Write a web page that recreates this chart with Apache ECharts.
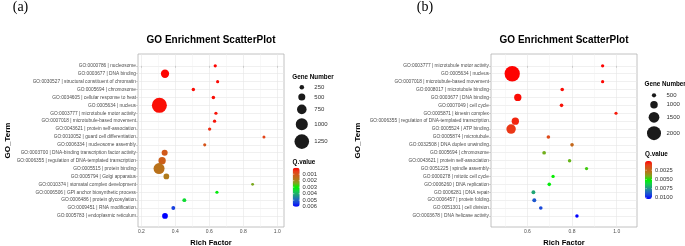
<!DOCTYPE html>
<html>
<head>
<meta charset="utf-8">
<script src="https://cdn.jsdelivr.net/npm/echarts@6/dist/echarts.min.js"></script>
<style>
html, body { margin: 0; padding: 0; background: #fff; }
#chart { width: 685px; height: 246px; }
</style>
</head>
<body>
<div id="chart"></div>
<script>
// panel (a)
var termsA = [
  'GO:0000786 | nucleosome',
  'GO:0003677 | DNA binding',
  'GO:0030527 | structural constituent of chromatin',
  'GO:0005694 | chromosome',
  'GO:0034605 | cellular response to heat',
  'GO:0005634 | nucleus',
  'GO:0003777 | microtubule motor activity',
  'GO:0007018 | microtubule-based movement',
  'GO:0043621 | protein self-association',
  'GO:0010052 | guard cell differentiation',
  'GO:0006334 | nucleosome assembly',
  'GO:0003700 | DNA-binding transcription factor activity',
  'GO:0006355 | regulation of DNA-templated transcription',
  'GO:0005515 | protein binding',
  'GO:0005794 | Golgi apparatus',
  'GO:0010374 | stomatal complex development',
  'GO:0006506 | GPI anchor biosynthetic process',
  'GO:0006486 | protein glycosylation',
  'GO:0009451 | RNA modification',
  'GO:0005783 | endoplasmic reticulum'
];
var richA = [0.635, 0.339, 0.649, 0.506, 0.624, 0.306, 0.639, 0.631, 0.602, 0.922,
             0.573, 0.337, 0.322, 0.304, 0.347, 0.855, 0.645, 0.453, 0.388, 0.339];
var genesA = [120, 620, 110, 140, 150, 1290, 120, 130, 130, 100,
              110, 400, 530, 890, 370, 90, 120, 190, 190, 370];
var qA = [0.00005, 0.00005, 0.00008, 0.0001, 0.00012, 0.00014, 0.00018, 0.0002, 0.0004, 0.0007,
          0.001, 0.0011, 0.0012, 0.0016, 0.0018, 0.0024, 0.0031, 0.0034, 0.0054, 0.006];
var xTicksA = [0.2, 0.4, 0.6, 0.8, 1.0];
var xMinorA = [0.3, 0.5, 0.7, 0.9];
var sizeKeysA = [250, 500, 750, 1000, 1250];
var qTicksA = [0.001, 0.002, 0.003, 0.004, 0.005, 0.006];

// panel (b)
var termsB = [
  'GO:0003777 | microtubule motor activity',
  'GO:0005634 | nucleus',
  'GO:0007018 | microtubule-based movement',
  'GO:0008017 | microtubule binding',
  'GO:0003677 | DNA binding',
  'GO:0007049 | cell cycle',
  'GO:0005871 | kinesin complex',
  'GO:0006355 | regulation of DNA-templated transcription',
  'GO:0005524 | ATP binding',
  'GO:0005874 | microtubule',
  'GO:0032508 | DNA duplex unwinding',
  'GO:0005694 | chromosome',
  'GO:0043621 | protein self-association',
  'GO:0051225 | spindle assembly',
  'GO:0000278 | mitotic cell cycle',
  'GO:0006260 | DNA replication',
  'GO:0006281 | DNA repair',
  'GO:0006457 | protein folding',
  'GO:0051301 | cell division',
  'GO:0003678 | DNA helicase activity'
];
var richB = [0.937, 0.532, 0.937, 0.756, 0.557, 0.753, 0.997, 0.546, 0.527, 0.694,
             0.800, 0.675, 0.789, 0.865, 0.715, 0.698, 0.627, 0.631, 0.660, 0.822];
var genesB = [350, 2200, 340, 400, 970, 400, 330, 970, 1300, 400,
              400, 420, 380, 350, 360, 400, 440, 460, 400, 380];
var qB = [0.00005, 0.00005, 0.0001, 0.0002, 0.0002, 0.0003, 0.0004, 0.0006, 0.0009, 0.0014,
          0.0024, 0.0042, 0.0043, 0.0046, 0.0051, 0.0053, 0.0071, 0.0088, 0.0091, 0.0103];
var xTicksB = [0.6, 0.8, 1.0];
var xMinorB = [0.5, 0.7, 0.9];
var sizeKeysB = [500, 1000, 1500, 2000];
var qTicksB = [0.0025, 0.0050, 0.0075, 0.0100];

var qColors = ['#ff0000', '#e8401a', '#cc5e1a', '#b07a1a', '#7aa81e', '#00f000',
               '#14d04a', '#20a07a', '#2070b8', '#1840e0', '#0000ff'];
var FONT = 'Liberation Sans, Arial, sans-serif';

function sizeA(v) { return 2 + v * 0.0101; }
function sizeB(v) { return 1 + v * 0.0065; }

function rows(n) {
  var r = [];
  for (var i = 0; i < n; i++) r.push(i);
  return r;
}

function points(rich, genes, q) {
  return rich.map(function (x, i) { return [x, i, genes[i], q[i]]; });
}

function panelAxes(grid, xMin, xMax, ticks, minor, terms, nameGap) {
  var xMain = {
    type: 'value', gridIndex: grid, min: xMin, max: xMax,
    name: 'Rich Factor', nameLocation: 'middle', nameGap: 11,
    nameTextStyle: { fontFamily: FONT, fontWeight: 'bold', fontSize: 7.5, color: '#000' },
    axisLine: { show: false },
    axisTick: { show: true, length: 2, customValues: ticks, lineStyle: { color: '#b3b3b3', width: 0.6 } },
    axisLabel: {
      customValues: ticks, fontFamily: FONT, fontSize: 5, color: '#4d4d4d', margin: 2,
      formatter: function (v) { return v.toFixed(1); }
    },
    splitLine: { show: true, lineStyle: { color: '#e6e6e6', width: 0.6 } }
  };
  var xMinor = {
    type: 'value', gridIndex: grid, min: xMin, max: xMax, position: 'bottom',
    axisLine: { show: false }, axisLabel: { show: false },
    axisTick: { show: false, customValues: minor },
    splitLine: { show: true, lineStyle: { color: '#f0f0f0', width: 0.5 } }
  };
  var idx = rows(terms.length);
  var y = {
    type: 'value', gridIndex: grid, inverse: true, min: -1.5, max: terms.length + 0.4,
    name: 'GO_Term', nameLocation: 'middle', nameRotate: 90, nameGap: nameGap,
    nameTextStyle: { fontFamily: FONT, fontWeight: 'bold', fontSize: 8, color: '#000' },
    axisLine: { show: false },
    axisTick: { show: true, length: 2, customValues: idx, lineStyle: { color: '#b3b3b3', width: 0.6 } },
    axisLabel: {
      customValues: idx, fontFamily: FONT, fontSize: 4.8, color: '#4d4d4d', margin: 2,
      formatter: function (v) { return terms[v] || ''; }
    },
    splitLine: { show: true, lineStyle: { color: '#e6e6e6', width: 0.6 } }
  };
  return { x: [xMain, xMinor], y: y };
}

var axA = panelAxes(0, 0.18, 1.04, xTicksA, xMinorA, termsA, 126);
var axB = panelAxes(1, 0.437, 1.091, xTicksB, xMinorB, termsB, 129);

var graphics = [];
function text(x, y, s, style) {
  graphics.push({
    type: 'text', x: x, y: y, silent: true,
    style: Object.assign({ text: s, fontFamily: FONT, fill: '#000',
      textAlign: 'left', textVerticalAlign: 'middle' }, style)
  });
}

text(20.5, 7, '(a)', { fontFamily: 'Liberation Serif, serif', fontSize: 14, textAlign: 'center' });
text(425, 7, '(b)', { fontFamily: 'Liberation Serif, serif', fontSize: 14, textAlign: 'center' });
text(211, 40, 'GO Enrichment ScatterPlot', { fontSize: 10, fontWeight: 'bold', textAlign: 'center' });
text(564, 40, 'GO Enrichment ScatterPlot', { fontSize: 10, fontWeight: 'bold', textAlign: 'center' });

function sizeLegend(x, titleY, firstY, keys, sizeFn, gap) {
  text(x, titleY, 'Gene Number', { fontSize: 6.3, fontWeight: 'bold' });
  var y = firstY;
  keys.forEach(function (k, i) {
    var d = sizeFn(k);
    if (i > 0) y += (sizeFn(keys[i - 1]) + d) / 2 + gap;
    graphics.push({ type: 'circle', silent: true, shape: { cx: x + 9.5, cy: y, r: d / 2 }, style: { fill: '#1a1a1a' } });
    text(x + 22, y, String(k), { fontSize: 6, fill: '#333' });
  });
}
sizeLegend(292.3, 77, 87.3, sizeKeysA, sizeA, 4);
sizeLegend(644.5, 84, 95.3, sizeKeysB, sizeB, 3.5);

function qLegend(x, titleY, barTop, barH, min, max, ticks, digits) {
  text(x, titleY, 'Q.value', { fontSize: 6.3, fontWeight: 'bold' });
  ticks.forEach(function (t) {
    var y = barTop + (t - min) / (max - min) * barH;
    graphics.push({ type: 'line', silent: true, z: 100, shape: { x1: x + 0.5, y1: y, x2: x + 1.8, y2: y }, style: { stroke: '#fff', lineWidth: 0.5 } });
    graphics.push({ type: 'line', silent: true, z: 100, shape: { x1: x + 6.2, y1: y, x2: x + 7.5, y2: y }, style: { stroke: '#fff', lineWidth: 0.5 } });
    text(x + 10, y, t.toFixed(digits), { fontSize: 5.8, fill: '#333' });
  });
}
qLegend(292.5, 162, 167.7, 39, 0, 0.006, qTicksA, 3);
qLegend(645, 154, 161, 38, 0, 0.0103, qTicksB, 4);

function visual(series, left, top, h, max) {
  return {
    type: 'continuous', seriesIndex: series, dimension: 3, min: 0, max: max,
    inverse: true, calculable: false, left: left, top: top, padding: 0,
    itemWidth: 7, itemHeight: h, text: null, hoverLink: false,
    inRange: { color: qColors }
  };
}

function scatter(grid, data, sizeFn) {
  return {
    type: 'scatter', xAxisIndex: grid * 2, yAxisIndex: grid, data: data,
    symbolSize: function (d) { return sizeFn(d[2]); },
    itemStyle: { opacity: 1 },
    emphasis: { disabled: true }
  };
}

function grid(left) {
  return {
    left: left, top: 54, width: 146, height: 173, show: true,
    borderColor: '#b3b3b3', borderWidth: 0.8, backgroundColor: '#fff',
    containLabel: false, outerBoundsMode: 'none'
  };
}

var chart = echarts.init(document.getElementById('chart'), null, { renderer: 'canvas' });
chart.setOption({
  animation: false,
  backgroundColor: '#fff',
  grid: [grid(138), grid(491)],
  xAxis: axA.x.concat(axB.x),
  yAxis: [axA.y, axB.y],
  visualMap: [
    visual(0, 292.7, 167.7, 39, 0.006),
    visual(1, 645, 161, 38, 0.0103)
  ],
  series: [
    scatter(0, points(richA, genesA, qA), sizeA),
    scatter(1, points(richB, genesB, qB), sizeB)
  ],
  graphic: graphics
});
</script>
</body>
</html>
